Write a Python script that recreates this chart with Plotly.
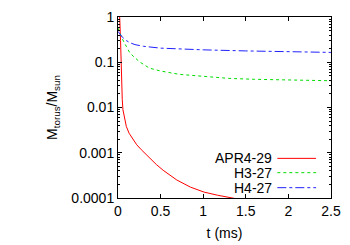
import plotly.graph_objects as go

# ---- data ----
series_names = ["APR4-29", "H3-27", "H4-27"]

t_apr4 = [0.0, 0.02, 0.03, 0.035, 0.042, 0.05, 0.058, 0.075, 0.098, 0.13, 0.175,
          0.22, 0.273, 0.33, 0.37, 0.45, 0.53, 0.69, 0.85, 1.01, 1.17, 1.33, 1.5]
m_apr4 = [1.3, 1.0, 0.3, 0.11, 0.03, 0.015, 0.0089, 0.0058, 0.0038, 0.0027, 0.00195,
          0.0015, 0.00117, 0.00092, 0.00076, 0.00055, 0.00041, 0.00025, 0.000174,
          0.000135, 0.000115, 0.0001, 0.000088]

t_h3 = [0.0, 0.05, 0.1, 0.14, 0.2, 0.26, 0.37, 0.5, 0.72, 1.0, 1.3, 1.6, 2.0, 2.5]
m_h3 = [0.57, 0.33, 0.22, 0.16, 0.125, 0.1, 0.074, 0.064, 0.054, 0.049, 0.044,
        0.042, 0.040, 0.039]

t_h4 = [0.0, 0.05, 0.1, 0.14, 0.2, 0.3, 0.5, 0.72, 1.0, 1.5, 2.0, 2.5]
m_h4 = [0.48, 0.36, 0.30, 0.27, 0.245, 0.225, 0.205, 0.195, 0.188, 0.178, 0.171, 0.165]

x_ticks = [0, 0.5, 1, 1.5, 2, 2.5]
x_tick_labels = ["0", "0.5", "1", "1.5", "2", "2.5"]
y_ticks = [1, 0.1, 0.01, 0.001, 0.0001]
y_tick_labels = ["1", "0.1", "0.01", "0.001", "0.0001"]

colors = ["#ff0000", "#00dd00", "#2020ff"]
dashes = ["solid", "dot", "dashdot"]

FONT = "Liberation Sans, Arial, Helvetica, sans-serif"
FS = 14

fig = go.Figure()
for name, tx, my, c, d in zip(series_names, [t_apr4, t_h3, t_h4],
                              [m_apr4, m_h3, m_h4], colors, dashes):
    fig.add_trace(go.Scatter(x=tx, y=my, mode="lines", name=name,
                             line=dict(color=c, width=1, dash=d),
                             showlegend=False))

# gnuplot-style legend: text right-aligned, then line sample
leg_y = [0.219, 0.140, 0.057]
for name, c, d, yy in zip(series_names, colors, dashes, leg_y):
    fig.add_annotation(xref="paper", yref="paper", x=0.713, y=yy, text=name,
                       showarrow=False, xanchor="right", yanchor="middle",
                       xshift=4,
                       font=dict(family=FONT, size=FS, color="black"))
    fig.add_shape(type="line", xref="paper", yref="paper", x0=0.748, x1=0.93,
                  y0=yy, y1=yy, line=dict(color=c, width=1, dash=d))

fig.update_xaxes(range=[0, 2.5], tickvals=x_ticks, ticktext=x_tick_labels,
                 ticks="inside", ticklen=4, tickcolor="black", mirror="allticks",
                 showline=True, linecolor="black", linewidth=1, showgrid=False,
                 zeroline=False, automargin=False,
                 title=dict(text="t (ms)", font=dict(family=FONT, size=FS), standoff=10),
                 tickfont=dict(family=FONT, size=FS, color="black"))
fig.update_yaxes(type="log", range=[-4, 0], tickvals=y_ticks, ticktext=y_tick_labels,
                 ticks="inside", ticklen=4, tickcolor="black", mirror="allticks",
                 showline=True, linecolor="black", linewidth=1, showgrid=False,
                 zeroline=False, automargin=False,
                 minor=dict(ticks="inside", ticklen=2, tickcolor="black", dtick="D1",
                            showgrid=False),
                 title=dict(text="M<sub>torus</sub>/M<sub>sun</sub>",
                            font=dict(family=FONT, size=FS), standoff=10),
                 tickfont=dict(family=FONT, size=FS, color="black"))

fig.update_layout(width=350, height=245,
                  margin=dict(l=118, r=19, t=17, b=47),
                  paper_bgcolor="white", plot_bgcolor="white",
                  font=dict(family=FONT, size=FS, color="black"))

fig.write_html("out.html", config={"displayModeBar": False},
               post_script="document.body.style.margin='0';")
